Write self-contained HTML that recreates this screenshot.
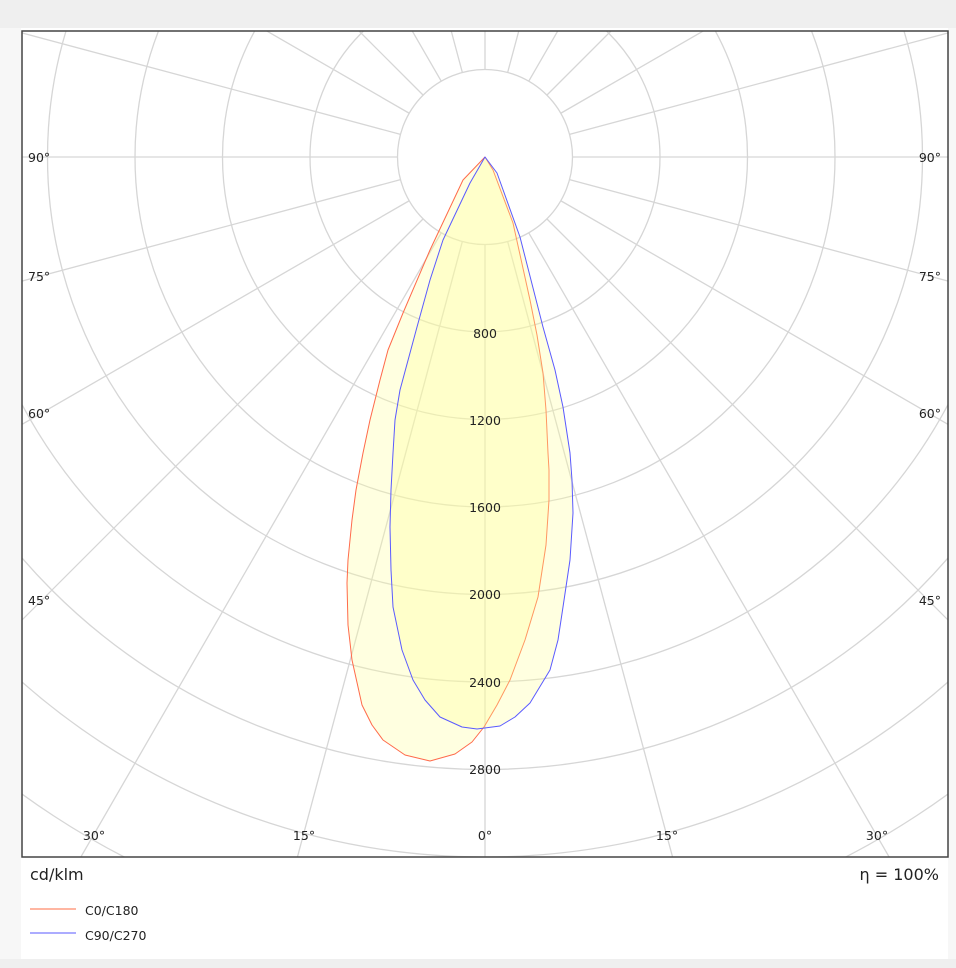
<!DOCTYPE html>
<html><head><meta charset="utf-8"><style>
html,body{margin:0;padding:0;width:956px;height:968px;overflow:hidden;background:#f7f7f7;}
svg{display:block;}
</style></head><body>
<svg width="956" height="968" xmlns="http://www.w3.org/2000/svg" font-family="DejaVu Sans, Liberation Sans, sans-serif">
<rect x="0" y="0" width="956" height="28" fill="#efefef"/>
<rect x="21" y="28" width="927" height="931" fill="#fff"/>
<rect x="0" y="959" width="956" height="9" fill="#efefef"/>
<defs><clipPath id="c"><rect x="22" y="31" width="926" height="826"/></clipPath></defs>
<g clip-path="url(#c)" stroke="#d6d6d6" stroke-width="1.3" fill="none">
<circle cx="485" cy="157" r="87.5"/><circle cx="485" cy="157" r="175"/><circle cx="485" cy="157" r="262.5"/>
<circle cx="485" cy="157" r="350"/><circle cx="485" cy="157" r="437.5"/><circle cx="485" cy="157" r="525"/>
<circle cx="485" cy="157" r="612.5"/><circle cx="485" cy="157" r="700"/><circle cx="485" cy="157" r="787.5"/>
<circle cx="485" cy="157" r="875"/><circle cx="485" cy="157" r="962.5"/>
<g transform="translate(485,157)">
<line x1="0" y1="87.5" x2="0" y2="1100"/>
<line x1="0" y1="87.5" x2="0" y2="1100" transform="rotate(15)"/><line x1="0" y1="87.5" x2="0" y2="1100" transform="rotate(-15)"/>
<line x1="0" y1="87.5" x2="0" y2="1100" transform="rotate(30)"/><line x1="0" y1="87.5" x2="0" y2="1100" transform="rotate(-30)"/>
<line x1="0" y1="87.5" x2="0" y2="1100" transform="rotate(45)"/><line x1="0" y1="87.5" x2="0" y2="1100" transform="rotate(-45)"/>
<line x1="0" y1="87.5" x2="0" y2="1100" transform="rotate(60)"/><line x1="0" y1="87.5" x2="0" y2="1100" transform="rotate(-60)"/>
<line x1="0" y1="87.5" x2="0" y2="1100" transform="rotate(75)"/><line x1="0" y1="87.5" x2="0" y2="1100" transform="rotate(-75)"/>
<line x1="0" y1="87.5" x2="0" y2="1100" transform="rotate(90)"/><line x1="0" y1="87.5" x2="0" y2="1100" transform="rotate(-90)"/>
<line x1="0" y1="87.5" x2="0" y2="1100" transform="rotate(105)"/><line x1="0" y1="87.5" x2="0" y2="1100" transform="rotate(-105)"/>
<line x1="0" y1="87.5" x2="0" y2="1100" transform="rotate(120)"/><line x1="0" y1="87.5" x2="0" y2="1100" transform="rotate(-120)"/>
<line x1="0" y1="87.5" x2="0" y2="1100" transform="rotate(135)"/><line x1="0" y1="87.5" x2="0" y2="1100" transform="rotate(-135)"/>
<line x1="0" y1="87.5" x2="0" y2="1100" transform="rotate(150)"/><line x1="0" y1="87.5" x2="0" y2="1100" transform="rotate(-150)"/>
<line x1="0" y1="87.5" x2="0" y2="1100" transform="rotate(165)"/><line x1="0" y1="87.5" x2="0" y2="1100" transform="rotate(-165)"/>
<line x1="0" y1="87.5" x2="0" y2="1100" transform="rotate(180)"/>
</g>
</g>
<g clip-path="url(#c)" stroke-linejoin="round">
<path d="M485,157 L463,180 L430,250 L403,313 L388,350 L380,380 L370,420 L363,453 L356,490 L352,520 L348,560 L347,583 L348,625 L352,660 L362,705 L372,725 L383,740 L405,755 L430,761 L455,754 L472,742 L484,727 L497,705 L510,680 L525,640 L538,597 L546,545 L549,500 L549,470 L548,453 L546,410 L543,373 L537,335 L530,300 L513,223 L493,170 Z" fill="#ffff99" fill-opacity="0.3" stroke="#ff6a4a" stroke-width="1"/>
<path d="M485,157 L470,183 L443,240 L430,280 L417,327 L400,390 L395,420 L393,453 L391,490 L390,527 L391,570 L393,607 L402,650 L413,680 L425,700 L440,717 L462,727 L477,729 L500,726 L515,717 L530,703 L550,670 L558,640 L563,607 L570,560 L573,513 L572,480 L570,453 L563,407 L555,370 L543,327 L520,237 L497,173 Z" fill="#ffff99" fill-opacity="0.3" stroke="#5a5aff" stroke-width="1"/>
</g>
<rect x="22" y="31" width="926" height="826" fill="none" stroke="#444" stroke-width="1.5"/>
<g font-size="12.5" fill="#222" text-anchor="middle">
<text x="485" y="338">800</text><text x="485" y="425">1200</text><text x="485" y="512">1600</text>
<text x="485" y="599">2000</text><text x="485" y="687">2400</text><text x="485" y="774">2800</text>
<text x="94" y="840">30°</text><text x="304" y="840">15°</text><text x="485" y="840">0°</text>
<text x="667" y="840">15°</text><text x="877" y="840">30°</text>
</g>
<g font-size="12.5" fill="#222">
<text x="28" y="162">90°</text><text x="28" y="281">75°</text><text x="28" y="418">60°</text><text x="28" y="605">45°</text>
<text x="941" y="162" text-anchor="end">90°</text><text x="941" y="281" text-anchor="end">75°</text>
<text x="941" y="418" text-anchor="end">60°</text><text x="941" y="605" text-anchor="end">45°</text>
</g>
<text x="30" y="880" font-size="16" fill="#222">cd/klm</text>
<text x="939" y="880" font-size="16" fill="#222" text-anchor="end">η = 100%</text>
<line x1="30" y1="909" x2="76" y2="909" stroke="#ff8a6a" stroke-width="1.2"/>
<line x1="30" y1="933" x2="76" y2="933" stroke="#7a7aff" stroke-width="1.2"/>
<text x="85" y="915" font-size="12.5" fill="#222">C0/C180</text>
<text x="85" y="940" font-size="12.5" fill="#222">C90/C270</text>
</svg>
</body></html>
